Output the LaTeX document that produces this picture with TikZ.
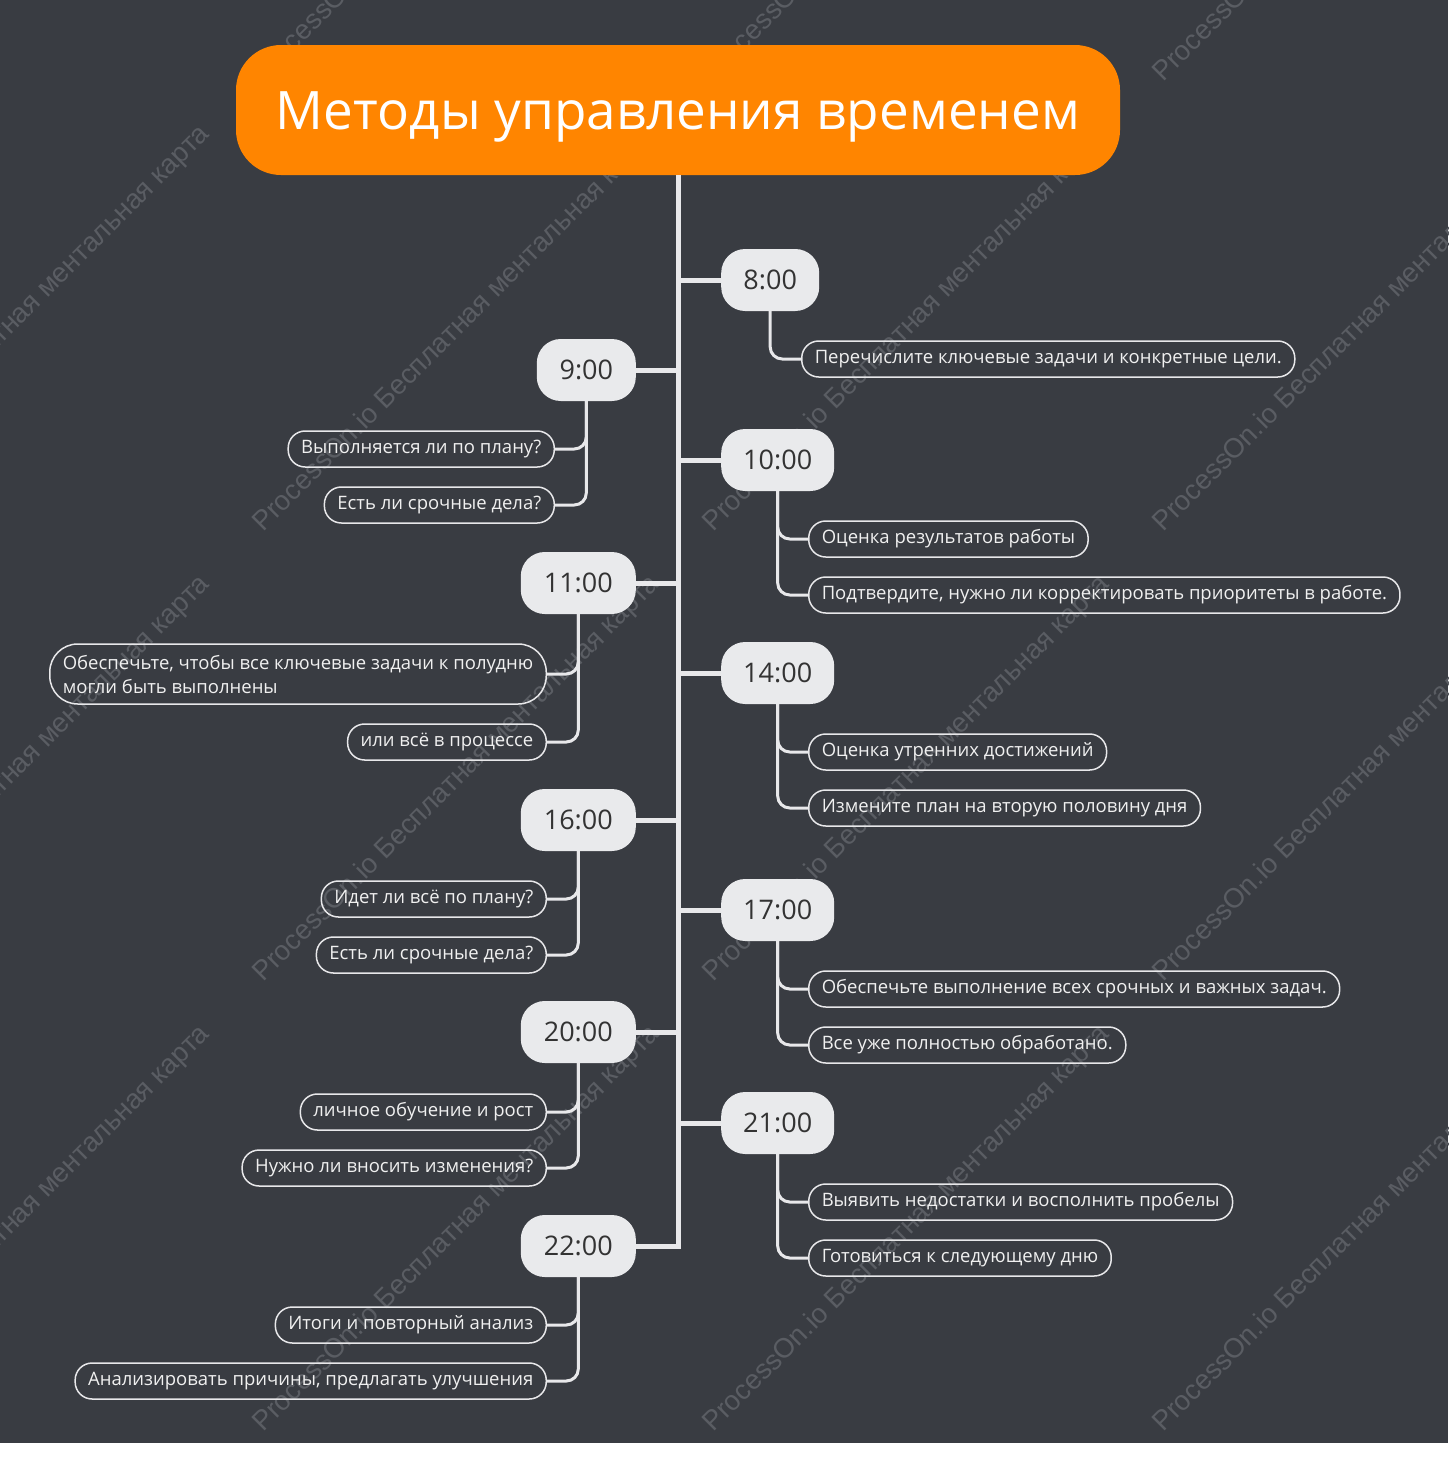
\documentclass[tikz,border=0pt]{standalone}
\usepackage{fontspec}
\setmainfont{Open Sans}
\newfontfamily\wmfont{Liberation Sans}

\definecolor{bgdark}{RGB}{57,60,66}
\definecolor{headorange}{RGB}{255,133,0}
\definecolor{boxgray}{RGB}{233,234,236}
\definecolor{linegray}{RGB}{232,232,234}
\definecolor{wmgray}{RGB}{90,93,99}

\tikzset{
  headbox/.style={fill=headorange, text=white, rounded corners=45pt,
    minimum width=884pt, minimum height=130pt, text height=38pt, text depth=0pt,
    font=\fontsize{53}{60}\selectfont},
  timebox/.style={fill=boxgray, text=black!80, rounded corners=24pt,
    minimum height=62pt, inner xsep=14pt,
    font=\fontsize{27}{32}\selectfont},
  leaf/.style={draw=linegray, line width=1.5pt, text=white!94!black,
    rounded corners=17pt, minimum height=36pt, inner xsep=13pt,
    font=\fontsize{18.5}{24}\selectfont},
  trunk/.style={draw=linegray, line width=5pt},
  link/.style={draw=linegray, line width=3pt, rounded corners=12pt},
  watermark/.style={text=wmgray, rotate=45, anchor=base west,
    font=\wmfont\fontsize{27.5}{31}\selectfont}
}

\begin{document}
\begin{tikzpicture}[x=1pt, y=-1pt]
    \useasboundingbox (0,0) rectangle (1450,1459);
    \fill[white] (0,0) rectangle (1450,1459);
    \fill[bgdark] (0,0) rectangle (1448,1443);

    % Watermark grid
    \begin{scope}
        \clip (0,0) rectangle (1448,1443);
        \foreach \wx in {-189,261,711,1161}
            \foreach \wy in {85,535,985,1435}
                \node[watermark] (wm\wx\wy) at (\wx,\wy) {ProcessOn.io Бесплатная ментальная карта};
    \end{scope}

    % Title
    \node[headbox] (head) at (678,110) {Методы управления временем};

    % Right side times
    \node[timebox, anchor=west, minimum width=98pt] (t8) at (721,280) {8:00};
    \node[timebox, anchor=west, minimum width=113pt] (t10) at (721,460) {10:00};
    \node[timebox, anchor=west, minimum width=113pt] (t14) at (721,673) {14:00};
    \node[timebox, anchor=west, minimum width=113pt] (t17) at (721,910) {17:00};
    \node[timebox, anchor=west, minimum width=113pt] (t21) at (721,1123) {21:00};

    % Left side times
    \node[timebox, anchor=east, minimum width=99pt] (t9) at (636,370) {9:00};
    \node[timebox, anchor=east, minimum width=115pt] (t11) at (636,583) {11:00};
    \node[timebox, anchor=east, minimum width=115pt] (t16) at (636,820) {16:00};
    \node[timebox, anchor=east, minimum width=115pt] (t20) at (636,1032) {20:00};
    \node[timebox, anchor=east, minimum width=115pt] (t22) at (636,1246) {22:00};

    % Right side tasks
    \node[leaf, anchor=west] (l8a) at (801,359) {Перечислите ключевые задачи и конкретные цели.};
    \node[leaf, anchor=west] (l10a) at (808,539) {Оценка результатов работы};
    \node[leaf, anchor=west] (l10b) at (808,595) {Подтвердите, нужно ли корректировать приоритеты в работе.};
    \node[leaf, anchor=west] (l14a) at (808,752) {Оценка утренних достижений};
    \node[leaf, anchor=west] (l14b) at (808,808) {Измените план на вторую половину дня};
    \node[leaf, anchor=west] (l17a) at (808,989) {Обеспечьте выполнение всех срочных и важных задач.};
    \node[leaf, anchor=west] (l17b) at (808,1045) {Все уже полностью обработано.};
    \node[leaf, anchor=west] (l21a) at (808,1202) {Выявить недостатки и восполнить пробелы};
    \node[leaf, anchor=west] (l21b) at (808,1258) {Готовиться к следующему дню};

    % Left side tasks
    \node[leaf, anchor=east] (l9a) at (555,449) {Выполняется ли по плану?};
    \node[leaf, anchor=east] (l9b) at (555,505) {Есть ли срочные дела?};
    \node[leaf, anchor=east, align=left, rounded corners=28pt, minimum height=60pt] (l11a) at (547,674)
        {Обеспечьте, чтобы все ключевые задачи к полудню\\могли быть выполнены};
    \node[leaf, anchor=east] (l11b) at (547,742) {или всё в процессе};
    \node[leaf, anchor=east] (l16a) at (547,899) {Идет ли всё по плану?};
    \node[leaf, anchor=east] (l16b) at (547,955) {Есть ли срочные дела?};
    \node[leaf, anchor=east] (l20a) at (547,1112) {личное обучение и рост};
    \node[leaf, anchor=east] (l20b) at (547,1168) {Нужно ли вносить изменения?};
    \node[leaf, anchor=east] (l22a) at (547,1325) {Итоги и повторный анализ};
    \node[leaf, anchor=east] (l22b) at (547,1381) {Анализировать причины, предлагать улучшения};

    % Trunk and branches
    \draw[trunk] (head.south) |- (t22.east);
    \foreach \t in {t8,t10,t14,t17,t21}
        \draw[trunk] (\t.west) -- (\t.west -| head.south);
    \foreach \t in {t9,t11,t16,t20}
        \draw[trunk] (\t.east) -- (\t.east -| head.south);

    % Time to task links
    \draw[link] (t8.south) |- (l8a.west);
    \foreach \t in {10,14,17,21} {
        \draw[link] (t\t.south) |- (l\t a.west);
        \draw[link] (t\t.south) |- (l\t b.west);
    }
    \foreach \t in {9,11,16,20,22} {
        \draw[link] (t\t.south) |- (l\t a.east);
        \draw[link] (t\t.south) |- (l\t b.east);
    }
\end{tikzpicture}
\end{document}
